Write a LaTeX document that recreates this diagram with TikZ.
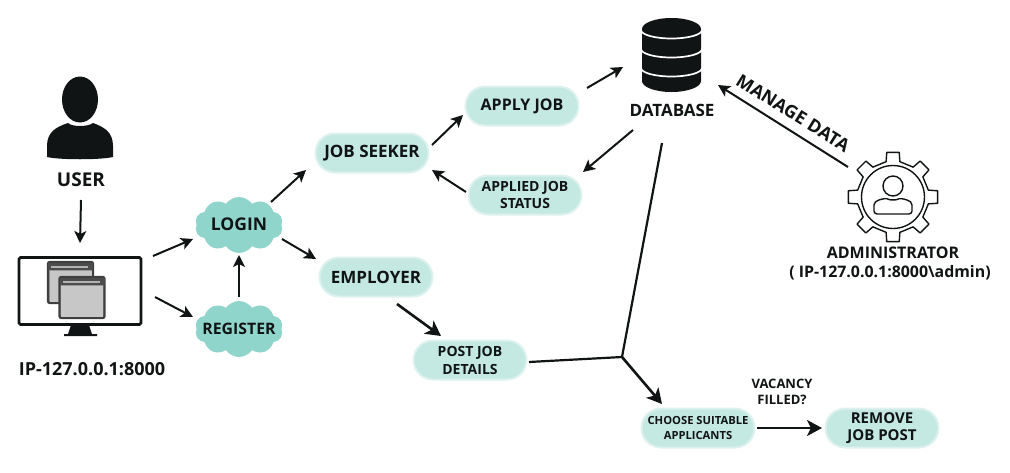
\documentclass[tikz,border=0pt]{standalone}
\usepackage{fontspec}
\setmainfont{Open Sans}
\usetikzlibrary{arrows.meta,shapes.misc,shapes.symbols,calc}
\definecolor{pillc}{HTML}{C4E8E2}
\definecolor{pilledge}{HTML}{DDF1EE}
\definecolor{cloudc}{HTML}{8FD5CB}
\definecolor{ink}{HTML}{111414}
\newcommand{\fs}[1]{\fontsize{#1}{#1}\selectfont\bfseries}
\newcommand{\ctext}[1]{\raisebox{-0.36em}[0pt][0pt]{\makebox[0pt]{#1}}}
\tikzset{
 pill/.style={rounded rectangle,fill=pillc,draw=pilledge,line width=2,text=ink,align=center,inner sep=0pt,minimum width=#1,minimum height=39,font=\fs{16}},
 pill/.default=113,
 cloudbox/.style={cloud,cloud puffs=10,cloud puff arc=110,aspect=1.55,fill=cloudc,text=ink,inner sep=0pt,minimum width=#1,minimum height=56,font=\fs{16}},
 cloudbox/.default=88,
 lab/.style={text=ink,align=center,inner sep=0pt,font=\fs{#1}},
 arr/.style={-{Stealth[length=12,width=12,inset=3]},line width=2,draw=ink},
 arrb/.style={-{Stealth[length=15,width=16,inset=4]},line width=2.6,draw=ink},
 plain/.style={line width=2.2,draw=ink},
}
\begin{document}
\begin{tikzpicture}[x=1pt,y=-1pt]
\useasboundingbox[fill=white] (0,0) rectangle (1010,472);
% user icon
\fill[ink] (80,99.5) ellipse (18 and 23);
\fill[ink] (47,157) -- (47,146) .. controls (47,132) and (56,127) .. (68,123) .. controls (72,127) and (88,127) .. (93,123) .. controls (104,127) and (113,132) .. (113,146) -- (113,157) .. controls (100,160) and (60,160) .. (47,157) -- cycle;
\node[lab=19] (user) at (81,180) {USER};
% monitor
\node[draw=ink,line width=2.6,rounded corners=1.5,minimum width=122,minimum height=67,inner sep=0] (mon) at (80,291) {};
\fill[ink] (71,325) -- (89,325) -- (92,334) -- (97,334) -- (97,336) -- (64,336) -- (64,334) -- (68,334) -- cycle;
\foreach \x/\y in {48/262,59.5/277}{
 \fill[fill=black!40!white,draw=black!75,line width=2.4,rounded corners=2] (\x,\y) rectangle ++(45,41);
 \fill[black!70] (\x,\y+1) rectangle ++(45,7);
 \fill[black!30] (\x+3,\y+4) rectangle ++(37,2);
 \fill[fill=black!22,draw=none] (\x+1.5,\y+9) rectangle ++(42,30.5);
}
\node[lab=18] (ip) at (92,369) {IP-127.0.0.1:8000};
% clouds
\node[cloudbox] (login) at (239,225) {\ctext{\fs{17.5}LOGIN}};
\node[cloudbox] (register) at (239,329) {\ctext{\fs{15.8}REGISTER}};
% pills
\node[pill,font=\fs{17}] (seeker) at (372,153) {JOB SEEKER};
\node[pill] (apply) at (522,106) {APPLY JOB};
\node[pill,font=\fs{14}] (status) at (525,195) {APPLIED JOB\\[3pt]STATUS};
\node[pill,font=\fs{17}] (employer) at (376,277) {EMPLOYER};
\node[pill,font=\fs{14}] (post) at (470,360) {POST JOB\\[4pt]DETAILS};
\node[pill,font=\fs{11.2}] (choose) at (698,428) {CHOOSE SUITABLE\\[4pt]APPLICANTS};
\node[pill,font=\fs{15}] (remove) at (882,428) {REMOVE\\[2pt]JOB POST};
\node[lab=13] (vac) at (782,392) {VACANCY\\[3pt]FILLED?};
% database
\fill[ink] (642,29) arc[start angle=180,end angle=360,x radius=29.5,y radius=11] -- (701,81) arc[start angle=0,end angle=180,x radius=29.5,y radius=11] -- cycle;
\node[inner sep=0,minimum width=59,minimum height=74] (db) at (671.5,55) {};
\foreach \yy in {30,49,68}
 \draw[white,line width=1.7] (641,\yy) arc[start angle=180,end angle=0,x radius=30.5,y radius=8.5];
\node[lab=17] (dbl) at (672,110) {DATABASE};
% admin gear
\begin{scope}[shift={(893,197)}]
\draw[ink,line width=1.4,line join=round] (-11:36)
 \foreach \a in {0,45,...,315}{ -- (\a-11:36) -- (\a-8:45) -- (\a+8:45) -- (\a+11:36) } -- cycle;
\draw[ink,line width=1.4] (0,0) circle (31.5);
\draw[ink,line width=1.4] (0,-11) circle (10);
\draw[ink,line width=1.4,rounded corners=3] (-19,17) -- (-19,11) .. controls (-19,3) and (-10,2) .. (-6,1) .. controls (-3,3) and (3,3) .. (6,1) .. controls (10,2) and (19,3) .. (19,11) -- (19,17) -- cycle;
\end{scope}
\node[inner sep=0,minimum width=90,minimum height=90] (gear) at (893,197) {};
\node[lab=16] (admin) at (893,253) {ADMINISTRATOR};
\node[lab=15.9] (adminip) at (890,273) {( IP-127.0.0.1:8000\textbackslash admin)};
\node[lab=18,rotate=-32] (manage) at (793,113) {MANAGE DATA};
% connectors
\coordinate (junction) at (622,357);
\draw[arr] ([shift={(0,20)}]user.center) -- ([shift={(0,-48)}]mon.center);
\draw[arr] ([shift={(73,-35)}]mon.center) -- ([shift={(-46,14)}]login.center);
\draw[arr] ([shift={(75,6)}]mon.center) -- ([shift={(-46,-12)}]register.center);
\draw[arr] ([shift={(0,-32)}]register.center) -- ([shift={(0,30)}]login.center);
\draw[arr] ([shift={(32,-23)}]login.center) -- ([shift={(-66,17)}]seeker.center);
\draw[arr] ([shift={(43,14)}]login.center) -- ([shift={(-60,-18)}]employer.center);
\draw[arr] ([shift={(60,-8)}]seeker.center) -- ([shift={(-59,9)}]apply.center);
\draw[arr] ([shift={(65,-18)}]apply.center) -- ([shift={(-48.5,12)}]db.center);
\draw[arr] ([shift={(-39,20)}]dbl.center) -- ([shift={(58,-23)}]status.center);
\draw[arr] ([shift={(-59,-3)}]status.center) -- ([shift={(60,17)}]seeker.center);
\draw[arrb] ([shift={(21,27)}]employer.center) -- ([shift={(-29,-24)}]post.center);
\draw[plain] ([shift={(-10,33)}]dbl.center) -- (junction);
\draw[plain] ([shift={(59,2)}]post.center) -- (junction);
\draw[arrb] (junction) -- ([shift={(-36,-24)}]choose.center);
\draw[arrb] ([shift={(59,0)}]choose.center) -- ([shift={(-60,0)}]remove.center);
\draw[arr] ([shift={(-45,-30)}]gear.center) -- ([shift={(46.5,30)}]db.center);
\end{tikzpicture}
\end{document}
